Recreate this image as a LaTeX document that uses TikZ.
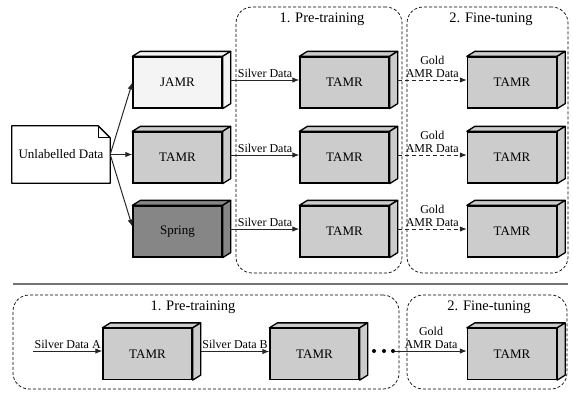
\documentclass[tikz,border=0pt]{standalone}
\usepackage{fontspec}
\setmainfont{Liberation Serif}
\usetikzlibrary{arrows.meta,calc}
\newcommand{\dep}{8}
\newcommand{\hgt}{5}
\newcommand{\ear}{12}
% a model drawn as a box with depth
\newcommand{\blk}[4]{
	\node[block, fill=#3] (#1) at (#2) {#4};
	\draw[face, fill=#3] (#1.north west) -- ++(\dep,-\hgt) -- ($(#1.north east)+(\dep,-\hgt)$) -- (#1.north east) -- cycle;
	\draw[face, fill=#3] (#1.north east) -- ++(\dep,-\hgt) -- ($(#1.south east)+(\dep,-\hgt)$) -- (#1.south east) -- cycle;
	\coordinate (#1-o) at ($(#1.east)+(\dep,-\hgt/2)$);
	}
\definecolor{light}{HTML}{F4F4F4}
\definecolor{mid}{HTML}{CCCCCC}
\definecolor{dark}{HTML}{868686}

\begin{document}
\begin{tikzpicture}[
      x=1pt, y=-1pt,
      block/.style={draw, line width=1.3pt, minimum width=89pt, minimum height=51pt, inner sep=0pt, font=\fontsize{13}{15}\selectfont},
      face/.style={line width=1.3pt, line join=round},
      doc/.style={minimum width=98pt, minimum height=57pt, inner sep=0pt, font=\fontsize{13}{15}\selectfont},
      stage/.style={draw, dash pattern=on 3pt off 2pt, line width=0.7pt, rounded corners=16pt},
      title/.style={font=\fontsize{14.5}{16}\selectfont},
      link/.style={black!85, line width=1pt, -{Latex[length=7pt,width=5.5pt]}},
      gold/.style={link, dash pattern=on 4pt off 3pt},
      lbl/.style={above, inner sep=2pt, text=black, font=\fontsize{12}{13}\selectfont},
      dot/.style={circle, fill=black, inner sep=0pt, minimum size=4pt}
    ]
    \useasboundingbox (0,0) rectangle (573,392);
    % Frames of the two stages, top scheme
    \node[stage, minimum width=166pt, minimum height=266pt] (preF) at (319,140) {};
    \node[stage, minimum width=161pt, minimum height=266pt] (fineF) at (487.5,140) {};
    \node[title] (preT) at (322,19) {1. Pre-training};
    \node[title] (fineT) at (491,19) {2. Fine-tuning};
    % Unlabelled data
    \node[doc] (u) at (61,154.5) {Unlabelled Data};
    \draw[face] (u.south west) -- (u.north west) -- ([xshift=-\ear pt]u.north east) -- ([yshift=-\ear pt]u.north east) -- (u.south east) -- cycle;
    \draw[face, line width=0.8pt] ([xshift=-\ear pt]u.north east) -- ([xshift=-\ear pt, yshift=-\ear pt]u.north east) -- ([yshift=-\ear pt]u.north east);
    % Draw the models
    \blk{jamr}{177.5,82.5}{light}{JAMR};
    \blk{tamr}{177.5,157.5}{mid}{TAMR};
    \blk{spring}{177.5,231.5}{dark}{Spring};
    \blk{pre1}{344.5,82.5}{mid}{TAMR};
    \blk{pre2}{344.5,157.5}{mid}{TAMR};
    \blk{pre3}{344.5,231.5}{mid}{TAMR};
    \blk{fine1}{512,82.5}{mid}{TAMR};
    \blk{fine2}{512,157.5}{mid}{TAMR};
    \blk{fine3}{512,231.5}{mid}{TAMR};
    % Arrows
    \draw[link] (u.east) -- (jamr.west);
    \draw[link] (u.east) -- (u.east -| tamr.west);
    \draw[link] (u.east) -- ($(spring.west)+(0,-5)$);
    \foreach \a/\b in {jamr/pre1, tamr/pre2, spring/pre3}
      \draw[link] (\a-o) -- node[lbl] {Silver Data} (\a-o -| \b.west);
    \foreach \a/\b in {pre1/fine1, pre2/fine2, pre3/fine3}
      \draw[gold] (\a-o) -- node[lbl, align=center] {Gold\\AMR Data} (\a-o -| \b.west);
    % Separator
    \coordinate (sepL) at (13,284);
    \coordinate (sepR) at (568,284);
    \draw[black!55, line width=1.5pt] (sepL) -- (sepR);
    % Bottom scheme
    \node[stage, minimum width=386pt, minimum height=94pt] (preF2) at (206,342) {};
    \node[stage, minimum width=160pt, minimum height=94pt] (fineF2) at (487,342) {};
    \node[title] (preT2) at (193,307) {1. Pre-training};
    \node[title] (fineT2) at (489,307) {2. Fine-tuning};
    \blk{preA}{147.5,354}{mid}{TAMR};
    \blk{preB}{314.5,354}{mid}{TAMR};
    \blk{fineB}{512,354}{mid}{TAMR};
    \coordinate (in) at (33,351);
    \foreach \i/\x in {1/374,2/384,3/393}
      \node[dot] (d\i) at (\x,351) {};
    \draw[link] (in) -- node[lbl] {Silver Data A} (in -| preA.west);
    \draw[link] (preA-o) -- node[lbl] {Silver Data B} (preA-o -| preB.west);
    \draw[link] (d3) -- node[lbl, align=center] {Gold\\AMR Data} (d3 -| fineB.west);
\end{tikzpicture}
\end{document}
